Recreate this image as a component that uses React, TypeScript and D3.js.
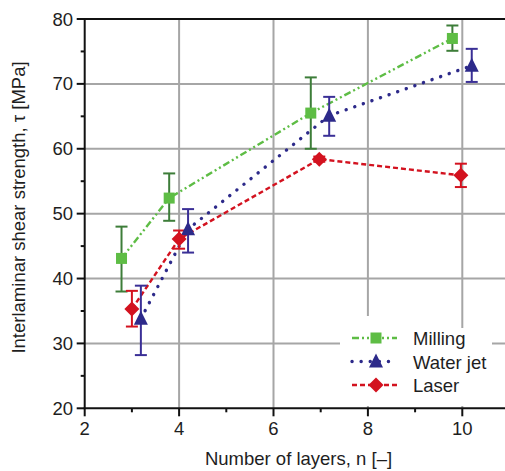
import React from "react";
import * as d3 from "d3";

// values
const millingN = [2.78, 3.79, 6.79, 9.79];
const millingTau = [43.1, 52.4, 65.5, 77.0];
const millingLo = [38.0, 48.9, 60.0, 75.1];
const millingHi = [48.0, 56.2, 71.0, 79.0];

const waterN = [3.19, 4.19, 7.18, 10.2];
const waterTau = [33.8, 47.6, 65.1, 72.8];
const waterLo = [28.2, 44.0, 62.0, 70.3];
const waterHi = [38.9, 50.7, 68.0, 75.4];

const laserN = [3.0, 4.0, 6.97, 9.97];
const laserTau = [35.3, 46.1, 58.4, 55.9];
const laserLo = [32.6, 44.6, 58.0, 54.1];
const laserHi = [38.1, 47.4, 58.8, 57.7];

const xTicks = [2, 4, 6, 8, 10];
const xMinor = [3, 5, 7, 9];
const yTicks = [20, 30, 40, 50, 60, 70, 80];
const yMinor = [25, 35, 45, 55, 65, 75];
const seriesNames = ["Milling", "Water jet", "Laser"];

const W = 505, H = 471;
const FONT = "'Liberation Sans', Arial, sans-serif";
const FS = 18.5;

const x = d3.scaleLinear().domain([2, 11]).range([84.7, 509.5]);
const y = d3.scaleLinear().domain([20, 80]).range([408.3, 19]);

type Series = {
  name: string; n: number[]; tau: number[]; lo: number[]; hi: number[];
  line: string; bar: string; dash: string; cap: "round" | "butt"; marker: string;
};

const series: Series[] = [
  { name: seriesNames[0], n: millingN, tau: millingTau, lo: millingLo, hi: millingHi,
    line: "#5ebd45", bar: "#3d7d39", dash: "7 3 2 3 2 3", cap: "butt", marker: "square" },
  { name: seriesNames[1], n: waterN, tau: waterTau, lo: waterLo, hi: waterHi,
    line: "#2d2a8a", bar: "#3a2f96", dash: "0.1 9", cap: "round", marker: "triangle" },
  { name: seriesNames[2], n: laserN, tau: laserTau, lo: laserLo, hi: laserHi,
    line: "#d3121f", bar: "#d3121f", dash: "5 3", cap: "butt", marker: "diamond" },
];

function Marker({ kind, cx, cy, color }: { kind: string; cx: number; cy: number; color: string }) {
  if (kind === "square") return <rect x={cx - 5.5} y={cy - 5.5} width={11} height={11} fill={color} />;
  if (kind === "triangle")
    return <path d={`M${cx},${cy - 8} L${cx + 7},${cy + 6} L${cx - 7},${cy + 6}Z`} fill={color} />;
  return <path d={`M${cx},${cy - 7.5} L${cx + 7.5},${cy} L${cx},${cy + 7.5} L${cx - 7.5},${cy}Z`} fill={color} />;
}

export default function App() {
  const line = d3.line<number>();
  const legendY = [338, 361.5, 385];
  return (
    <svg width={W} height={H} style={{ position: "absolute", left: 0, top: 0, background: "#fff" }}>
      {/* grid */}
      {xTicks.slice(1).map(t => (
        <line key={"gx" + t} x1={x(t)} x2={x(t)} y1={y(80)} y2={y(20)} stroke="#a6a6a6" strokeWidth={2} />
      ))}
      {yTicks.slice(1, -1).map(t => (
        <line key={"gy" + t} x1={x(2)} x2={W} y1={y(t)} y2={y(t)} stroke="#a6a6a6" strokeWidth={2} />
      ))}

      {/* lines */}
      {series.map(s => (
        <path key={"l" + s.name}
          d={line(s.n.map((v, i) => [x(v), y(s.tau[i])] as [number, number])) || ""}
          fill="none" stroke={s.line} strokeWidth={s.cap === "round" ? 3.4 : 2.4}
          strokeDasharray={s.dash} strokeLinecap={s.cap} />
      ))}

      {/* error bars */}
      {series.map(s => s.n.map((v, i) => (
        <g key={"e" + s.name + i} stroke={s.bar} strokeWidth={2}>
          <line x1={x(v)} x2={x(v)} y1={y(s.lo[i])} y2={y(s.hi[i])} />
          <line x1={x(v) - 6} x2={x(v) + 6} y1={y(s.lo[i])} y2={y(s.lo[i])} />
          <line x1={x(v) - 6} x2={x(v) + 6} y1={y(s.hi[i])} y2={y(s.hi[i])} />
        </g>
      )))}

      {/* markers */}
      {series.map(s => s.n.map((v, i) => (
        <Marker key={"m" + s.name + i} kind={s.marker} cx={x(v)} cy={y(s.tau[i])} color={s.line} />
      )))}

      {/* legend */}
      <rect x={340} y={316} width={66} height={90} fill="#fff" />
      <rect x={405} y={328} width={87} height={78} fill="#fff" />
      {series.map((s, i) => (
        <g key={"lg" + s.name}>
          <line x1={352} x2={397} y1={legendY[i]} y2={legendY[i]} stroke={s.line}
            strokeWidth={s.cap === "round" ? 3.4 : 2.4} strokeDasharray={s.dash} strokeLinecap={s.cap} />
          <Marker kind={s.marker} cx={376} cy={legendY[i]} color={s.line} />
          <text x={413} y={legendY[i] + 7} fontFamily={FONT} fontSize={FS} fill="#1e1e1e">{s.name}</text>
        </g>
      ))}

      {/* axes */}
      <line x1={x(2)} x2={x(2)} y1={y(80)} y2={y(20)} stroke="#111" strokeWidth={2} />
      <line x1={x(2) - 1} x2={W} y1={y(20)} y2={y(20)} stroke="#111" strokeWidth={2} />
      <line x1={x(2) - 1} x2={W} y1={y(80)} y2={y(80)} stroke="#111" strokeWidth={2} />
      {yTicks.map(t => (
        <g key={"yt" + t}>
          <line x1={x(2) - 8} x2={x(2)} y1={y(t)} y2={y(t)} stroke="#111" strokeWidth={2} />
          <text x={73} y={y(t) + 6.5} textAnchor="end" fontFamily={FONT} fontSize={FS} fill="#1e1e1e">{t}</text>
        </g>
      ))}
      {yMinor.map(t => (
        <line key={"ym" + t} x1={x(2) - 4} x2={x(2)} y1={y(t)} y2={y(t)} stroke="#111" strokeWidth={2} />
      ))}
      {xTicks.map(t => (
        <g key={"xt" + t}>
          <line x1={x(t)} x2={x(t)} y1={y(20)} y2={y(20) + 8} stroke="#111" strokeWidth={2} />
          <text x={x(t)} y={435} textAnchor="middle" fontFamily={FONT} fontSize={FS} fill="#1e1e1e">{t}</text>
        </g>
      ))}
      {xMinor.map(t => (
        <line key={"xm" + t} x1={x(t)} x2={x(t)} y1={y(20)} y2={y(20) + 4} stroke="#111" strokeWidth={2} />
      ))}

      <text x={298.5} y={465} textAnchor="middle" fontFamily={FONT} fontSize={FS} fill="#1e1e1e">Number of layers, n [–]</text>
      <text transform={`translate(25,207.5) rotate(-90)`} textAnchor="middle"
        fontFamily={FONT} fontSize={FS} fill="#1e1e1e">Interlaminar shear strength, τ [MPa]</text>
    </svg>
  );
}
